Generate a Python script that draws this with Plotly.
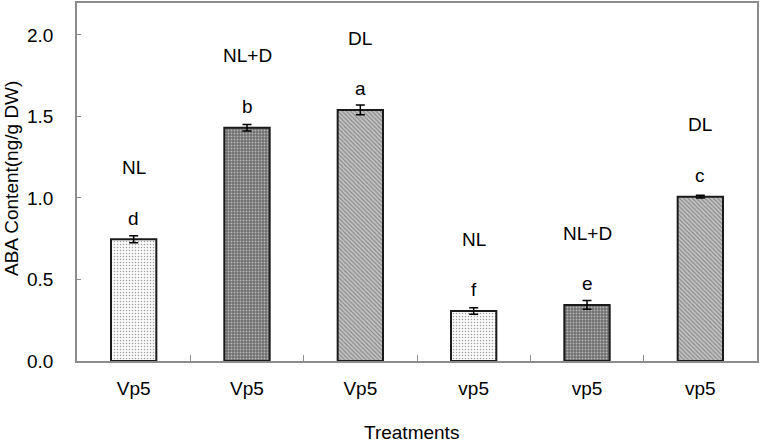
import plotly.graph_objects as go

# ---- data ----
genotypes = ["Vp5", "Vp5", "Vp5", "vp5", "vp5", "vp5"]
treatments = ["NL", "NL+D", "DL", "NL", "NL+D", "DL"]
aba_values = [0.747, 1.431, 1.540, 0.307, 0.344, 1.008]
aba_errors = [0.022, 0.020, 0.030, 0.020, 0.027, 0.008]
sig_letters = ["d", "b", "a", "f", "e", "c"]
y_ticks = [0.0, 0.5, 1.0, 1.5, 2.0]
x_title = "Treatments"
y_title = "ABA Content(ng/g DW)"

# ---- styles ----
cats = [f"{g} {t}" for g, t in zip(genotypes, treatments)]
style = {
    "NL":   dict(bg="#fbfbfb", fg="#dcdcdc", shape=".", size=3, sol=0.2),
    "NL+D": dict(bg="#6f6f6f", fg="#767676", shape=".", size=3, sol=0.3),
    "DL":   dict(bg="#c2c2c2", fg="#8e8e8e", shape="\\", size=3, sol=0.35),
}
FONT = "Liberation Sans, Arial, sans-serif"
FS = 19
AX = "#8c8c8c"

fig = go.Figure()
fig.add_trace(go.Bar(
    x=cats, y=aba_values, width=0.4,
    marker=dict(
        color=[style[t]["bg"] for t in treatments],
        line=dict(color="#1a1a1a", width=2),
        pattern=dict(
            shape=[style[t]["shape"] for t in treatments],
            bgcolor=[style[t]["bg"] for t in treatments],
            fgcolor=[style[t]["fg"] for t in treatments],
            size=[style[t]["size"] for t in treatments],
            solidity=[style[t]["sol"] for t in treatments],
        ),
    ),
    error_y=dict(type="data", array=aba_errors, color="#000000", thickness=1.5, width=4.5),
    showlegend=False, hoverinfo="skip",
))

LETTER_OFF = 0.13
LABEL_OFF = 0.44
for c, v, l, t in zip(cats, aba_values, sig_letters, treatments):
    fig.add_annotation(x=c, y=v + LETTER_OFF, text=l, showarrow=False,
                       font=dict(family=FONT, size=FS, color="#000"))
    fig.add_annotation(x=c, y=v + LABEL_OFF, text=t, showarrow=False,
                       font=dict(family=FONT, size=FS, color="#000"))

# axis titles
fig.add_annotation(xref="paper", yref="paper", x=0.5, y=0, xshift=-6, yshift=-71,
                   xanchor="center", yanchor="middle",
                   text=x_title, showarrow=False, font=dict(family=FONT, size=FS))
fig.add_annotation(xref="paper", yref="paper", x=0, y=0.5, xshift=-66, yshift=3,
                   xanchor="center", yanchor="middle",
                   text=y_title, textangle=-90, showarrow=False,
                   font=dict(family=FONT, size=FS))

fig.update_layout(
    width=763, height=443,
    margin=dict(l=77, r=6, t=3, b=82, autoexpand=False),
    plot_bgcolor="#ffffff", paper_bgcolor="#ffffff",
    font=dict(family=FONT, size=FS, color="#000"),
    bargap=0.6,
)
fig.update_xaxes(
    type="category", categoryorder="array", categoryarray=cats,
    tickvals=cats, ticktext=genotypes, tickson="boundaries",
    ticks="inside", ticklen=6, tickcolor=AX, tickwidth=1,
    showline=True, linecolor=AX, linewidth=1.5, mirror=True,
    ticklabelstandoff=9, automargin=False,
    tickfont=dict(size=FS, family=FONT),
    showgrid=False, zeroline=False,
)
fig.update_yaxes(
    range=[0, 2.196], tickvals=y_ticks, ticktext=[f"{v:.1f}" for v in y_ticks],
    ticks="inside", ticklen=4, tickcolor=AX, tickwidth=1,
    showline=True, linecolor=AX, linewidth=1.5, mirror=True,
    ticklabelstandoff=18, automargin=False,
    tickfont=dict(size=FS, family=FONT),
    showgrid=False, zeroline=False,
)

fig.write_html("out.html", config={"displayModeBar": False},
               post_script="document.body.style.margin='0';document.body.style.overflow='hidden';")
